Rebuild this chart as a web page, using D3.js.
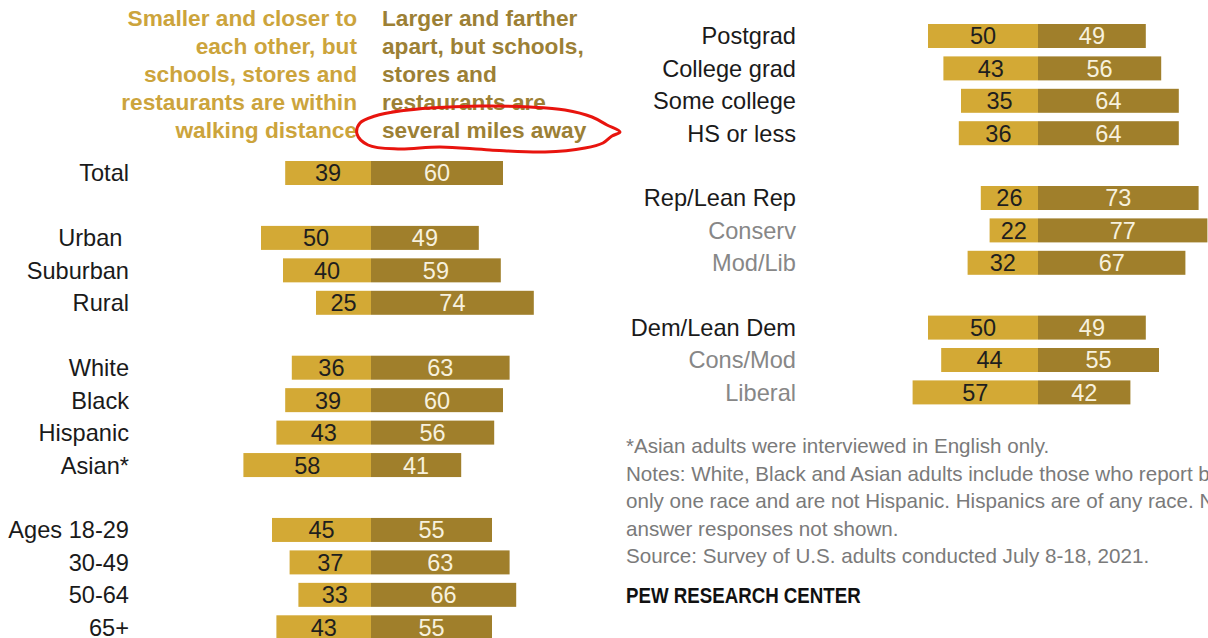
<!DOCTYPE html>
<html>
<head>
<meta charset="utf-8">
<script src="https://cdn.jsdelivr.net/npm/d3@7"></script>
<style>
  html, body { margin: 0; padding: 0; background: #ffffff; overflow: hidden; }
  svg { display: block; }
  text { font-family: "Liberation Sans", Arial, sans-serif; }
</style>
</head>
<body>
<svg id="chart" width="1208" height="638"></svg>
<script>
// ---------- DATA ----------
const leftCategories = ["Total", "Urban ", "Suburban", "Rural", "White", "Black", "Hispanic", "Asian*", "Ages 18-29", "30-49", "50-64", "65+"];
const leftCloser   = [39, 50, 40, 25, 36, 39, 43, 58, 45, 37, 33, 43];
const leftFarther  = [60, 49, 59, 74, 63, 60, 56, 41, 55, 63, 66, 55];
const leftSlots = ["Total", "gap-a", "Urban ", "Suburban", "Rural", "gap-b", "White", "Black", "Hispanic", "Asian*", "gap-c", "Ages 18-29", "30-49", "50-64", "65+"];

const rightCategories = ["Postgrad", "College grad", "Some college", "HS or less", "Rep/Lean Rep", "Conserv", "Mod/Lib", "Dem/Lean Dem", "Cons/Mod", "Liberal"];
const rightCloser  = [50, 43, 35, 36, 26, 22, 32, 50, 44, 57];
const rightFarther = [49, 56, 64, 64, 73, 77, 67, 49, 55, 42];
const rightSlots = ["Postgrad", "College grad", "Some college", "HS or less", "gap-d", "Rep/Lean Rep", "Conserv", "Mod/Lib", "gap-e", "Dem/Lean Dem", "Cons/Mod", "Liberal"];
const subCategories = ["Conserv", "Mod/Lib", "Cons/Mod", "Liberal"];

const headerCloser  = ["Smaller and closer to", "each other, but", "schools, stores and", "restaurants are within", "walking distance"];
const headerFarther = ["Larger and farther", "apart, but schools,", "stores and", "restaurants are", "several miles away"];

const notes = [
  "*Asian adults were interviewed in English only.",
  "Notes: White, Black and Asian adults include those who report being",
  "only one race and are not Hispanic. Hispanics are of any race. No",
  "answer responses not shown.",
  "Source: Survey of U.S. adults conducted July 8-18, 2021."
];
const sourceLabel = "PEW RESEARCH CENTER";

// hand-drawn red annotation circling a header line (decoration, page coords)
const annotation = [[392,112],[430,108],[480,106],[530,107],[565,110],[592,117],[607,125],[620,132],[612,136],[603,143],[585,148],[545,152],[490,150],[440,147],[398,149],[368,145],[357,134],[360,123],[375,116],[400,111]];

// ---------- STYLE ----------
const colCloser = "#D3A935";
const colFarther = "#A07F2B";
const barH = 24;

const svg = d3.select("#chart");

function panel(cats, closer, farther, slots, yRange, xCenter, labelRight) {
  const y = d3.scalePoint().domain(slots).range(yRange);
  const x = d3.scaleLinear().domain([-100, 100]).range([xCenter - 220, xCenter + 220]);
  const rows = cats.map((c, i) => ({ c, a: closer[i], b: farther[i] }));
  const g = svg.append("g");

  g.selectAll("rect.closer").data(rows).join("rect")
    .attr("x", d => x(-d.a)).attr("width", d => x(0) - x(-d.a))
    .attr("y", d => y(d.c) - barH / 2).attr("height", barH)
    .attr("fill", colCloser);
  g.selectAll("rect.farther").data(rows).join("rect")
    .attr("x", x(0)).attr("width", d => x(d.b) - x(0))
    .attr("y", d => y(d.c) - barH / 2).attr("height", barH)
    .attr("fill", colFarther);

  g.selectAll("text.va").data(rows).join("text")
    .attr("x", d => (x(-d.a) + x(0)) / 2).attr("y", d => y(d.c)).attr("dy", "0.36em")
    .attr("text-anchor", "middle").attr("font-size", 23.5).attr("fill", "#1e1e1e")
    .text(d => d.a);
  g.selectAll("text.vb").data(rows).join("text")
    .attr("x", d => (x(d.b) + x(0)) / 2).attr("y", d => y(d.c)).attr("dy", "0.36em")
    .attr("text-anchor", "middle").attr("font-size", 23.5).attr("fill", "#f7f1de")
    .text(d => d.b);

  g.selectAll("text.lab").data(rows).join("text")
    .attr("x", labelRight).attr("y", d => y(d.c)).attr("dy", "0.36em")
    .attr("text-anchor", "end").attr("font-size", 23.6)
    .style("white-space", "pre")
    .attr("fill", d => subCategories.includes(d.c) ? "#878787" : "#1a1a1a")
    .text(d => d.c);
}

panel(leftCategories, leftCloser, leftFarther, leftSlots, [173, 173 + 14 * 32.45], 371, 129);
panel(rightCategories, rightCloser, rightFarther, rightSlots, [36, 36 + 11 * 32.4], 1038, 796);

// headers
const hy = d3.scalePoint().domain(d3.range(5)).range([18, 130]);
svg.append("g").selectAll("text").data(headerCloser).join("text")
  .attr("x", 357).attr("y", (d, i) => hy(i)).attr("dy", "0.36em")
  .attr("text-anchor", "end").attr("font-size", 22.7).attr("font-weight", "bold")
  .attr("fill", "#CCA43C").text(d => d);
svg.append("g").selectAll("text").data(headerFarther).join("text")
  .attr("x", 382).attr("y", (d, i) => hy(i)).attr("dy", "0.36em")
  .attr("text-anchor", "start").attr("font-size", 22.7).attr("font-weight", "bold")
  .attr("fill", "#9C8035").text(d => d);

// notes
const ny = d3.scalePoint().domain(d3.range(notes.length)).range([446, 556]);
svg.append("g").selectAll("text").data(notes).join("text")
  .attr("x", 626).attr("y", (d, i) => ny(i)).attr("dy", "0.36em")
  .attr("font-size", 20.6).attr("fill", "#7a7a7a").text(d => d);
svg.append("text")
  .attr("transform", "translate(626,595) scale(0.85,1)")
  .attr("dy", "0.36em")
  .attr("font-size", 22).attr("font-weight", "bold").attr("fill", "#111")
  .text(sourceLabel);

// red annotation
svg.append("path")
  .attr("d", d3.line().curve(d3.curveCatmullRom)(annotation))
  .attr("fill", "none").attr("stroke", "#e8140e").attr("stroke-width", 3)
  .attr("stroke-linecap", "round").attr("stroke-linejoin", "round");
</script>
</body>
</html>
